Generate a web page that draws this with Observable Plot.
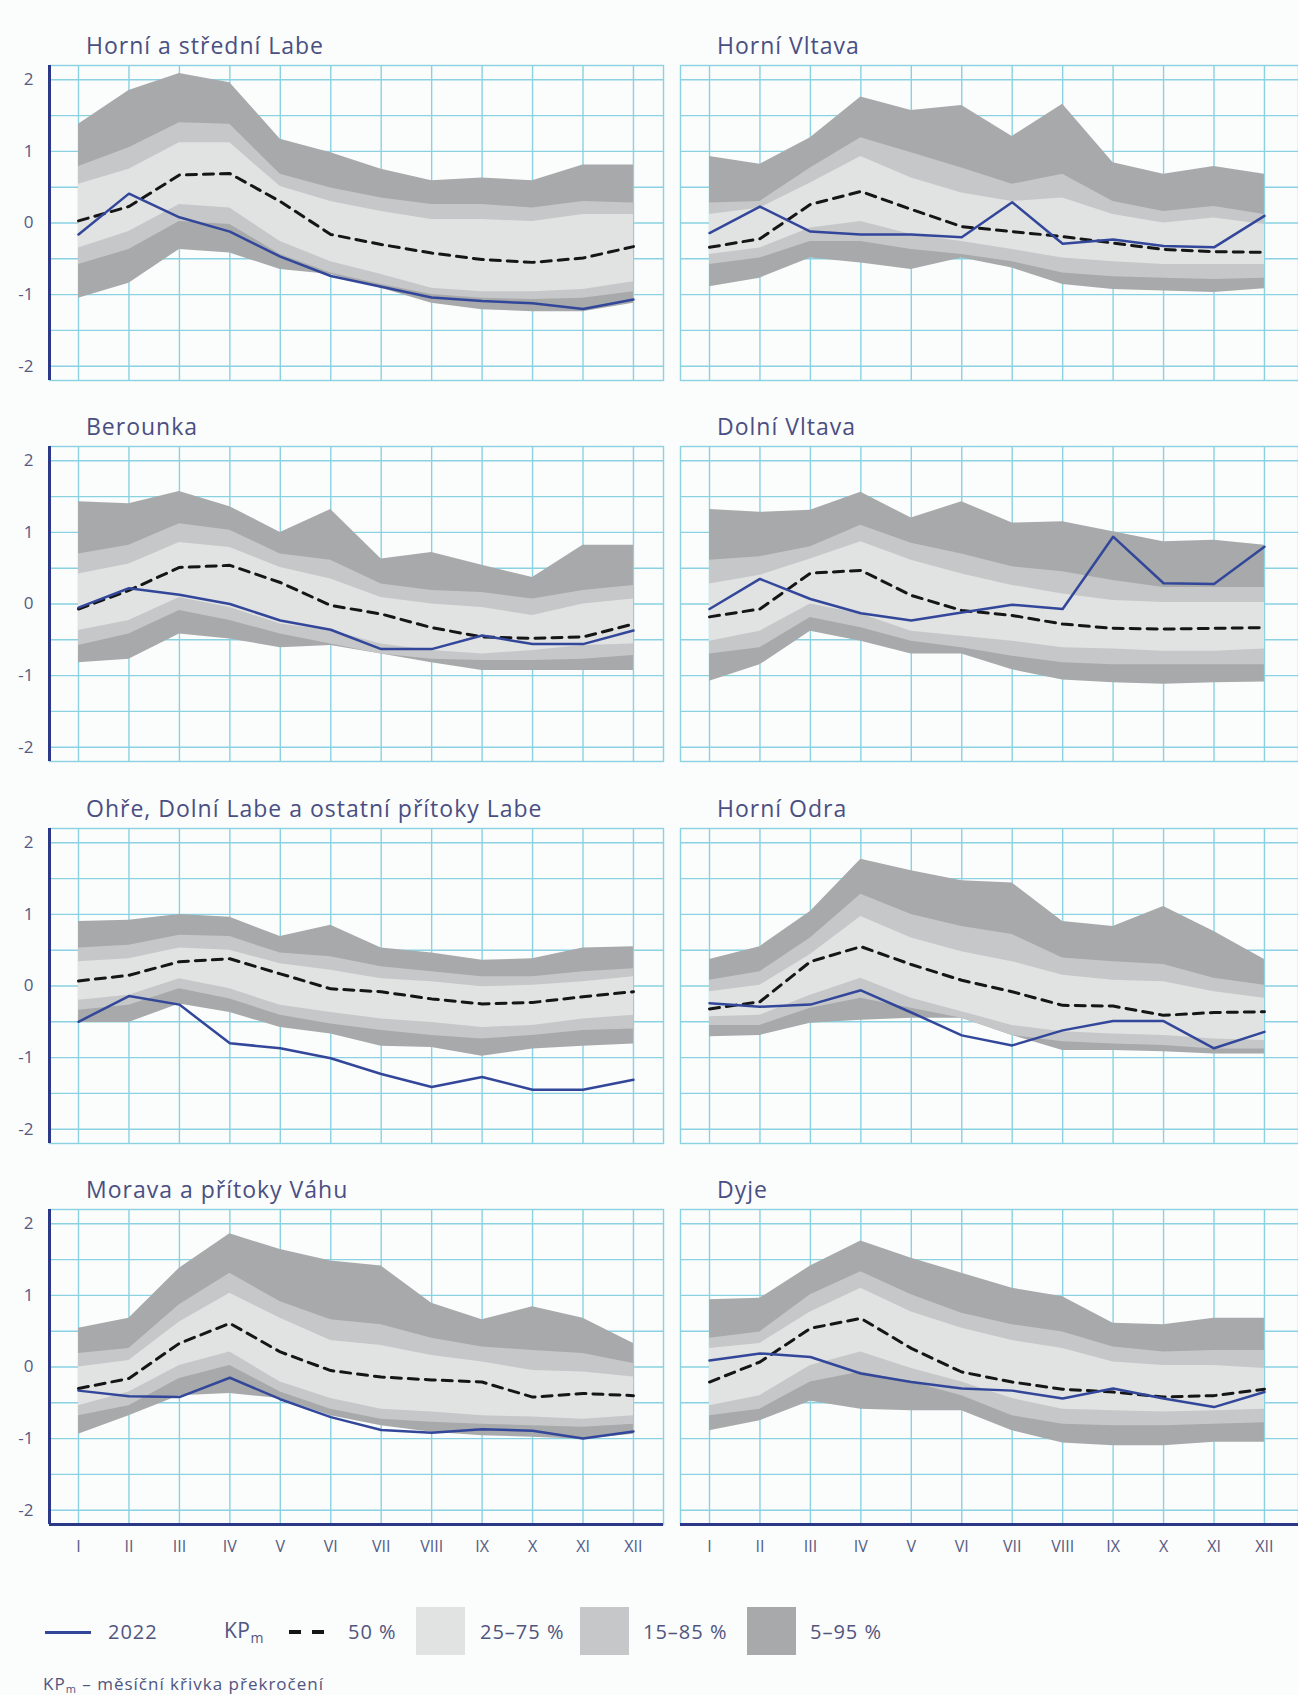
<!DOCTYPE html>
<html><head><meta charset="utf-8">
<script src="https://cdn.jsdelivr.net/npm/d3@7"></script>
<script src="https://cdn.jsdelivr.net/npm/@observablehq/plot@0.6"></script>
<style>
html,body{margin:0;padding:0;background:#fbfcfc;}
#root{position:relative;width:1298px;height:1695px;overflow:hidden;font-family:"Open Sans","Noto Sans",sans-serif;background:#fbfcfc;}
.panel{position:absolute;}
.title{position:absolute;font-size:23px;line-height:23px;color:#4a4f82;white-space:nowrap;letter-spacing:1px;}
.lg{position:absolute;line-height:1;transform:translateY(-50%);color:#50557f;white-space:nowrap;letter-spacing:1px;}
.box{position:absolute;}
</style></head><body><div id="root"></div>
<script>
const months = ["I","II","III","IV","V","VI","VII","VIII","IX","X","XI","XII"];
const regions = ["Horní a střední Labe","Horní Vltava","Berounka","Dolní Vltava",
  "Ohře, Dolní Labe a ostatní přítoky Labe","Horní Odra","Morava a přítoky Váhu","Dyje"];
const yTicks = [-2,-1,0,1,2];
const gridY = [-2,-1.5,-1,-0.5,0,0.5,1,1.5,2];
const legendLabels = ["2022","50 %","25–75 %","15–85 %","5–95 %"];

const p95 = [
 [1.38,1.85,2.09,1.96,1.17,0.98,0.75,0.59,0.63,0.59,0.81,0.81],
 [0.93,0.82,1.19,1.76,1.57,1.64,1.21,1.66,0.84,0.68,0.79,0.68],
 [1.43,1.40,1.57,1.36,1.00,1.32,0.63,0.72,0.54,0.37,0.82,0.82],
 [1.32,1.28,1.31,1.56,1.20,1.43,1.13,1.15,1.01,0.87,0.89,0.82],
 [0.90,0.92,1.00,0.96,0.69,0.85,0.53,0.46,0.36,0.38,0.53,0.55],
 [0.37,0.55,1.04,1.77,1.61,1.47,1.44,0.90,0.83,1.11,0.76,0.37],
 [0.54,0.68,1.38,1.86,1.64,1.48,1.41,0.89,0.66,0.84,0.68,0.33],
 [0.94,0.96,1.41,1.76,1.52,1.31,1.10,0.98,0.61,0.59,0.68,0.68]];
const p85 = [
 [0.79,1.05,1.40,1.38,0.68,0.49,0.35,0.26,0.26,0.21,0.30,0.28],
 [0.28,0.30,0.77,1.19,0.98,0.77,0.54,0.68,0.30,0.16,0.23,0.12],
 [0.70,0.82,1.12,1.03,0.70,0.61,0.28,0.19,0.16,0.07,0.19,0.26],
 [0.61,0.66,0.80,1.10,0.85,0.70,0.52,0.45,0.33,0.23,0.23,0.23],
 [0.53,0.57,0.71,0.69,0.46,0.41,0.27,0.20,0.13,0.13,0.20,0.24],
 [0.08,0.20,0.67,1.28,1.00,0.83,0.72,0.39,0.34,0.30,0.11,0.01],
 [0.19,0.26,0.87,1.31,0.91,0.66,0.59,0.40,0.28,0.23,0.19,0.05],
 [0.40,0.49,1.01,1.33,1.01,0.75,0.59,0.49,0.28,0.21,0.23,0.23]];
const p75 = [
 [0.54,0.75,1.12,1.12,0.51,0.30,0.16,0.05,0.05,0.02,0.12,0.12],
 [0.12,0.21,0.56,0.93,0.63,0.42,0.30,0.35,0.12,0.00,0.07,-0.02],
 [0.42,0.56,0.86,0.79,0.51,0.35,0.09,0.00,-0.05,-0.16,0.00,0.07],
 [0.28,0.40,0.63,0.87,0.61,0.42,0.26,0.14,0.05,0.02,0.02,0.02],
 [0.34,0.38,0.53,0.50,0.31,0.22,0.10,0.06,-0.01,0.01,0.06,0.13],
 [-0.08,0.01,0.44,0.97,0.67,0.48,0.34,0.15,0.08,0.06,-0.08,-0.17],
 [0.00,0.09,0.63,1.03,0.68,0.37,0.30,0.16,0.07,-0.05,-0.07,-0.14],
 [0.26,0.33,0.77,1.10,0.77,0.54,0.37,0.26,0.07,0.02,0.02,-0.02]];
const p50 = [
 [0.03,0.23,0.67,0.69,0.30,-0.16,-0.30,-0.42,-0.51,-0.55,-0.49,-0.33],
 [-0.34,-0.22,0.26,0.44,0.19,-0.05,-0.12,-0.19,-0.28,-0.37,-0.40,-0.41],
 [-0.07,0.19,0.51,0.54,0.30,-0.02,-0.14,-0.33,-0.46,-0.48,-0.46,-0.28],
 [-0.18,-0.07,0.43,0.47,0.12,-0.09,-0.16,-0.28,-0.34,-0.35,-0.34,-0.33],
 [0.07,0.15,0.34,0.38,0.17,-0.04,-0.08,-0.18,-0.25,-0.23,-0.15,-0.08],
 [-0.32,-0.22,0.34,0.55,0.30,0.08,-0.08,-0.27,-0.28,-0.41,-0.37,-0.36],
 [-0.30,-0.16,0.33,0.61,0.21,-0.05,-0.14,-0.18,-0.21,-0.42,-0.37,-0.40],
 [-0.21,0.07,0.54,0.68,0.26,-0.07,-0.21,-0.31,-0.35,-0.42,-0.40,-0.31]];
const p25 = [
 [-0.35,-0.12,0.26,0.21,-0.26,-0.54,-0.72,-0.91,-0.96,-0.96,-0.93,-0.82],
 [-0.44,-0.35,-0.07,0.02,-0.16,-0.26,-0.37,-0.49,-0.54,-0.58,-0.58,-0.58],
 [-0.37,-0.23,0.09,-0.05,-0.28,-0.37,-0.56,-0.65,-0.70,-0.65,-0.58,-0.56],
 [-0.52,-0.38,0.00,-0.14,-0.38,-0.45,-0.52,-0.61,-0.63,-0.66,-0.66,-0.63],
 [-0.20,-0.13,0.10,-0.04,-0.27,-0.37,-0.46,-0.51,-0.58,-0.55,-0.46,-0.41],
 [-0.43,-0.41,-0.13,0.11,-0.17,-0.36,-0.55,-0.64,-0.67,-0.69,-0.74,-0.76],
 [-0.54,-0.35,0.02,0.21,-0.21,-0.44,-0.59,-0.63,-0.68,-0.70,-0.73,-0.68],
 [-0.54,-0.40,0.02,0.21,-0.02,-0.21,-0.44,-0.59,-0.61,-0.63,-0.61,-0.59]];
const p15 = [
 [-0.58,-0.37,0.02,-0.02,-0.44,-0.70,-0.86,-1.00,-1.05,-1.07,-1.05,-0.96],
 [-0.58,-0.49,-0.26,-0.26,-0.37,-0.44,-0.54,-0.70,-0.75,-0.77,-0.79,-0.77],
 [-0.58,-0.42,-0.09,-0.23,-0.42,-0.56,-0.70,-0.77,-0.79,-0.79,-0.77,-0.72],
 [-0.70,-0.61,-0.19,-0.33,-0.52,-0.61,-0.73,-0.82,-0.85,-0.85,-0.85,-0.85],
 [-0.34,-0.27,-0.04,-0.18,-0.41,-0.53,-0.62,-0.69,-0.74,-0.69,-0.62,-0.60],
 [-0.55,-0.55,-0.31,-0.17,-0.31,-0.45,-0.69,-0.78,-0.81,-0.83,-0.88,-0.88],
 [-0.68,-0.54,-0.16,0.02,-0.35,-0.59,-0.73,-0.77,-0.80,-0.82,-0.84,-0.80],
 [-0.68,-0.59,-0.21,-0.07,-0.21,-0.40,-0.68,-0.80,-0.82,-0.82,-0.80,-0.78]];
const p5 = [
 [-1.05,-0.84,-0.37,-0.42,-0.65,-0.72,-0.91,-1.12,-1.21,-1.24,-1.24,-1.12],
 [-0.89,-0.77,-0.49,-0.56,-0.65,-0.49,-0.63,-0.86,-0.93,-0.95,-0.97,-0.92],
 [-0.82,-0.77,-0.42,-0.49,-0.61,-0.58,-0.70,-0.82,-0.93,-0.93,-0.93,-0.93],
 [-1.08,-0.85,-0.38,-0.52,-0.70,-0.70,-0.92,-1.06,-1.10,-1.12,-1.10,-1.09],
 [-0.51,-0.51,-0.25,-0.37,-0.58,-0.67,-0.84,-0.86,-0.98,-0.88,-0.84,-0.81],
 [-0.71,-0.69,-0.52,-0.48,-0.45,-0.45,-0.69,-0.90,-0.90,-0.92,-0.95,-0.95],
 [-0.94,-0.68,-0.40,-0.37,-0.44,-0.68,-0.82,-0.91,-0.96,-0.98,-1.01,-0.94],
 [-0.89,-0.75,-0.48,-0.59,-0.61,-0.61,-0.89,-1.06,-1.10,-1.10,-1.05,-1.05]];
const y2022 = [
 [-0.16,0.41,0.08,-0.12,-0.47,-0.74,-0.89,-1.04,-1.09,-1.12,-1.20,-1.07],
 [-0.14,0.23,-0.12,-0.16,-0.16,-0.20,0.29,-0.29,-0.23,-0.32,-0.34,0.10],
 [-0.05,0.22,0.13,0.00,-0.23,-0.36,-0.63,-0.63,-0.44,-0.56,-0.56,-0.37],
 [-0.07,0.35,0.07,-0.13,-0.23,-0.12,-0.01,-0.07,0.94,0.29,0.28,0.80],
 [-0.50,-0.14,-0.26,-0.80,-0.87,-1.01,-1.23,-1.41,-1.27,-1.45,-1.45,-1.31],
 [-0.24,-0.29,-0.26,-0.06,-0.37,-0.69,-0.83,-0.62,-0.49,-0.49,-0.87,-0.64],
 [-0.33,-0.41,-0.42,-0.15,-0.45,-0.70,-0.88,-0.92,-0.87,-0.89,-1.00,-0.90],
 [0.09,0.19,0.14,-0.09,-0.21,-0.30,-0.33,-0.44,-0.30,-0.44,-0.56,-0.35]];

const GRID = "#8ad2e2", NAVY = "#2b3787", BLUE = "#33479a", TXT = "#555a82";
const C5 = "#a7a9aa", C15 = "#c6c7c8", C25 = "#e1e2e2";
const FRAME_TOPS = [65, 446, 828, 1209];
const PLOT_H = 315;
const STEP = 50.45, XMIN = 0.425;
const FONT = "'Open Sans', 'Noto Sans', sans-serif";

const root = document.getElementById("root");

for (let r = 0; r < 4; r++) {
  for (let c = 0; c < 2; c++) {
    const k = r * 2 + c;
    const left = c === 0, bottom = r === 3;
    const data = months.map((m, i) => ({
      m: i + 1, p5: p5[k][i], p15: p15[k][i], p25: p25[k][i], p50: p50[k][i],
      p75: p75[k][i], p85: p85[k][i], p95: p95[k][i], v: y2022[k][i]
    }));
    const ml = left ? 49 : 0;
    const width = left ? 663 : 618;
    const mb = bottom ? 40 : 0;
    const xmax = XMIN + (width - ml) / STEP;
    const marks = [
      Plot.ruleY(gridY, {stroke: GRID, strokeWidth: 1.4}),
      Plot.ruleX(d3.range(1, 13), {stroke: GRID, strokeWidth: 1.4}),
      Plot.frame({stroke: GRID, strokeWidth: 1.4}),
      Plot.areaY(data, {x: "m", y1: "p5", y2: "p95", fill: C5}),
      Plot.areaY(data, {x: "m", y1: "p15", y2: "p85", fill: C15}),
      Plot.areaY(data, {x: "m", y1: "p25", y2: "p75", fill: C25}),
      Plot.line(data, {x: "m", y: "p50", stroke: "#151515", strokeWidth: 3, strokeDasharray: "10,7"}),
      Plot.line(data, {x: "m", y: "v", stroke: BLUE, strokeWidth: 2.5})
    ];
    if (left) {
      marks.push(Plot.ruleX([XMIN], {stroke: NAVY, strokeWidth: 3}));
      marks.push(Plot.text(yTicks, {x: XMIN, y: d => d, text: d => String(d), textAnchor: "end", dx: -16, fill: TXT, fontSize: 17}));
    }
    if (bottom) {
      marks.push(Plot.ruleY([-2.2], {stroke: NAVY, strokeWidth: 3}));
      marks.push(Plot.text(months, {x: (d, i) => i + 1, y: -2.2, text: d => d, dy: 22, fill: TXT, fontSize: 16}));
    }
    const svg = Plot.plot({
      width, height: PLOT_H + mb, marginLeft: ml, marginRight: 0, marginTop: 0, marginBottom: mb,
      x: {domain: [XMIN, xmax], axis: null},
      y: {domain: [-2.2, 2.2], axis: null},
      style: {background: "transparent", overflow: "visible", fontFamily: FONT},
      marks
    });
    const wrap = document.createElement("div");
    wrap.className = "panel";
    wrap.style.left = (left ? 0 : 680) + "px";
    wrap.style.top = FRAME_TOPS[r] + "px";
    wrap.appendChild(svg);
    root.appendChild(wrap);

    const t = document.createElement("div");
    t.className = "title";
    t.textContent = regions[k];
    t.style.left = (left ? 86 : 717) + "px";
    t.style.top = (FRAME_TOPS[r] - 31) + "px";
    root.appendChild(t);
  }
}

// legend
function el(cls, css, html) {
  const d = document.createElement("div");
  d.className = cls;
  Object.assign(d.style, css);
  if (html != null) d.innerHTML = html;
  root.appendChild(d);
  return d;
}
const LY = 1632;
el("box", {left: "45px", top: (LY - 1.5) + "px", width: "46px", height: "3px", background: BLUE});
el("lg", {left: "108px", top: LY + "px", fontSize: "20px"}, legendLabels[0]);
el("lg", {left: "224px", top: LY + "px", fontSize: "21px", letterSpacing: "0.5px"}, "KP<sub style='font-size:14px;vertical-align:-5px'>m</sub>");
el("box", {left: "289px", top: (LY - 2) + "px", width: "12px", height: "4px", background: "#151515"});
el("box", {left: "312px", top: (LY - 2) + "px", width: "12px", height: "4px", background: "#151515"});
el("lg", {left: "348px", top: LY + "px", fontSize: "20px"}, legendLabels[1]);
el("box", {left: "416px", top: "1607px", width: "49px", height: "48px", background: C25});
el("lg", {left: "480px", top: LY + "px", fontSize: "20px"}, legendLabels[2]);
el("box", {left: "580px", top: "1607px", width: "49px", height: "48px", background: C15});
el("lg", {left: "643px", top: LY + "px", fontSize: "20px"}, legendLabels[3]);
el("box", {left: "747px", top: "1607px", width: "49px", height: "48px", background: C5});
el("lg", {left: "810px", top: LY + "px", fontSize: "20px"}, legendLabels[4]);
el("lg", {left: "43px", top: "1684px", fontSize: "17px"}, "KP<sub style='font-size:11px;vertical-align:-3px'>m</sub> – měsíční křivka překročení");
</script></body></html>
